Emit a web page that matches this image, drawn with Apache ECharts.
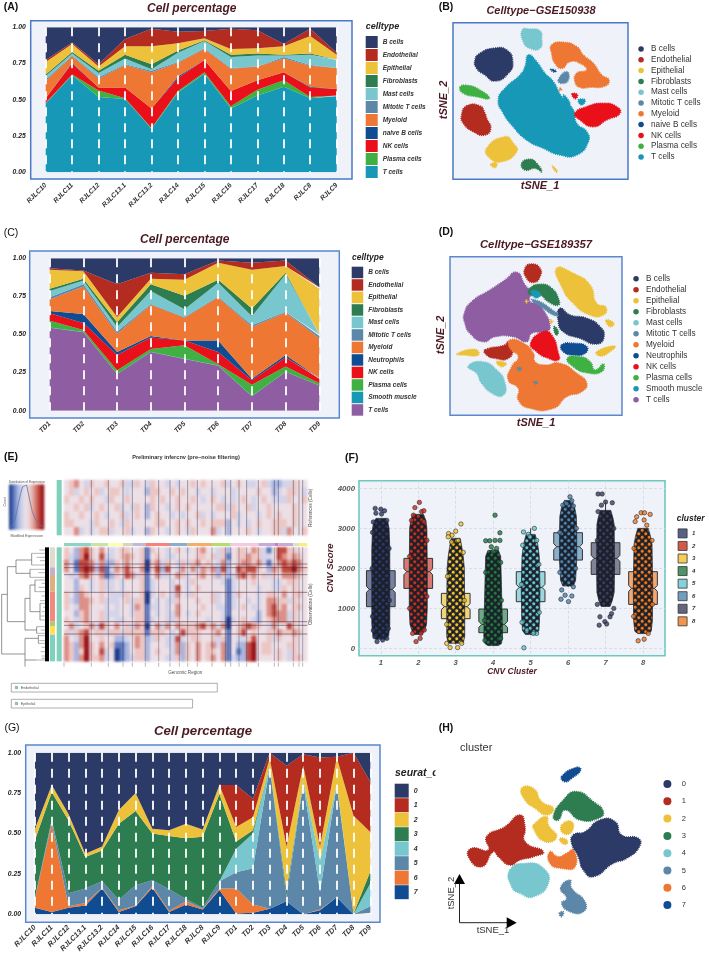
<!DOCTYPE html>
<html><head><meta charset="utf-8">
<style>html,body{margin:0;padding:0;background:#fff}
#h,#c{position:absolute;left:0;top:0;width:709px;height:960px}
#h{filter:blur(1px)}#c{filter:blur(.35px)}</style>
<script src="https://cdn.jsdelivr.net/npm/echarts@6/dist/echarts.min.js"></script>
</head><body><div id="h"></div><div id="c"></div>
<script>
// ---------- Panel A values: upper edge of each band ----------
const catsA=['RJLC10','RJLC11','RJLC12','RJLC13.1','RJLC13.2','RJLC14','RJLC15','RJLC16','RJLC17','RJLC18','RJLC8','RJLC9'];
const A_T=[.475,.67,.52,.505,.30,.55,.68,.44,.53,.59,.51,.525];
const A_Plasma=[.48,.675,.565,.51,.305,.56,.69,.455,.57,.635,.52,.53];
const A_NK=[.51,.75,.585,.585,.44,.65,.775,.56,.635,.69,.585,.575];
const A_NaiveB=[.51,.755,.585,.585,.44,.66,.775,.56,.635,.69,.59,.575];
const A_Myeloid=[.63,.80,.645,.74,.69,.755,.85,.715,.73,.785,.735,.72];
const A_Mitotic=[.64,.805,.655,.745,.70,.76,.855,.72,.73,.795,.74,.72];
const A_Mast=[.665,.82,.685,.785,.71,.825,.905,.795,.805,.805,.81,.775];
const A_Fibro=[.675,.83,.70,.81,.745,.84,.91,.81,.82,.81,.82,.78];
const A_Epi=[.76,.885,.73,.87,.87,.89,.925,.85,.855,.87,.94,.81];
const A_Endo=[.775,.895,.745,.92,.99,.97,.975,.99,.98,.885,.99,.825];
const A_B=[1,1,1,1,1,1,1,1,1,1,1,1];
// ---------- Panel C ----------
const catsC=['TD1','TD2','TD3','TD4','TD5','TD6','TD7','TD8','TD9'];
const C_T=[.545,.515,.24,.385,.34,.295,.095,.255,.165];
const C_Smooth=[.546,.516,.241,.386,.341,.296,.096,.256,.166];
const C_Plasma=[.59,.53,.265,.405,.43,.305,.17,.29,.18];
const C_NK=[.64,.575,.365,.48,.46,.385,.20,.35,.21];
const C_Neutro=[.655,.635,.385,.49,.46,.46,.21,.365,.215];
const C_Myeloid=[.73,.815,.505,.695,.61,.745,.55,.645,.475];
const C_Mitotic=[.745,.83,.52,.70,.615,.75,.56,.65,.49];
const C_Mast=[.785,.855,.55,.785,.665,.84,.62,.895,.50];
const C_Fibro=[.80,.865,.58,.83,.755,.86,.67,.905,.505];
const C_Epi=[.925,.915,.615,.865,.86,.97,.925,.95,.80];
const C_Endo=[.935,.92,.83,.905,.895,.985,.97,.985,.81];
const C_B=[1,1,1,1,1,1,1,1,1];
// ---------- Panel G ----------
const catsG=['RJLC10','RJLC11','RJLC12','RJLC13.1','RJLC13.2','RJLC14','RJLC15','RJLC16','RJLC17','RJLC18','RJLC8','RJLC9','TD1','TD2','TD3','TD4','TD5','TD6','TD7','TD8','TD9'];
const G_7=[.04,.015,.04,.055,.16,.015,.05,.165,.015,.06,.03,.15,.005,.01,.035,.08,0,.025,.105,0,.005];
const G_6=[.10,.56,.05,.07,.165,.025,.055,.175,.02,.08,.035,.16,.16,.06,.035,.08,0,.03,.105,0,.01];
const G_5=[.105,.58,.13,.16,.205,.09,.18,.21,.155,.095,.04,.205,.26,.285,.91,.11,.81,.14,.80,0,.05];
const G_4=[.105,.585,.13,.16,.205,.09,.18,.21,.155,.095,.04,.205,.405,.50,.92,.115,.83,.33,.81,0,.19];
const G_3=[.46,.755,.58,.355,.395,.56,.64,.50,.485,.47,.48,.745,.45,.52,.92,.145,.83,.33,.81,.005,.265];
const G_2=[.53,.80,.62,.375,.42,.645,.75,.53,.52,.56,.525,.80,.54,.60,.965,.42,.92,.42,.97,.61,.51];
const G_1=[.53,.80,.62,.375,.42,.645,.75,.53,.52,.56,.525,.80,.80,.715,1,.92,.99,.97,.975,1,.82];
const G_0=[1,1,1,1,1,1,1,1,1,1,1,1,1,1,1,1,1,1,1,1,1];
// ---------- Panel B tSNE cluster outlines ----------
const B_Bcells=[[[150,160],[190,145],[230,150],[248,185],[235,220],[195,243],[165,225],[140,205],[135,180]]];
const B_Endo=[[[110,318],[150,318],[165,340],[170,355],[182,385],[165,405],[130,395],[100,370],[95,345]]];
const B_Epi=[[[170,445],[225,410],[250,430],[260,455],[215,485],[180,475]],[[182,493],[200,490],[195,503]],[[367,498],[382,513],[378,516]]];
const B_Fibro=[[[275,490],[300,478],[320,490],[335,515],[315,505],[285,510]]];
const B_Mast=[[[277,90],[300,87],[330,93],[335,115],[330,145],[300,145],[280,125]]];
const B_Mitotic=[[[385,240],[410,215],[415,240],[395,250]]];
const B_Myeloid=[[[365,135],[400,127],[440,140],[460,165],[490,190],[515,225],[537,240],[525,258],[480,262],[450,262],[435,245],[440,220],[470,210],[450,190],[420,185],[395,205],[375,190],[365,160]],[[390,265],[395,268],[389,271]]];
const B_Naive=[[[362,208],[378,212],[372,216]]];
const B_NK=[[[435,340],[470,320],[520,310],[560,320],[570,340],[530,360],[490,380],[450,360]],[[426,282],[442,284],[436,296]]];
const B_Plasma=[[[90,262],[110,256],[150,270],[178,295],[140,290],[100,280]]];
const B_T=[[[295,165],[320,185],[345,220],[370,245],[395,290],[430,330],[440,370],[470,395],[475,425],[440,465],[390,465],[340,445],[290,420],[245,375],[220,340],[205,300],[225,265],[270,225],[285,200]],[[400,285],[420,310],[410,315]],[[445,300],[465,300],[455,315]]];
// ---------- Panel D tSNE cluster outlines ----------
const D_Bcells=[[[390,265],[420,285],[470,295],[510,320],[522,350],[500,372],[450,355],[400,335],[385,305]]];
const D_Endo=[[[285,145],[305,132],[330,145],[330,170],[312,187],[290,175]],[[165,390],[225,375],[235,365],[248,385],[235,415],[195,415],[170,405]]];
const D_Epi=[[[380,145],[430,160],[480,195],[500,250],[528,262],[520,285],[480,285],[430,250],[395,200]],[[528,300],[552,310],[540,320]],[[500,395],[555,378],[540,395],[510,408]],[[80,402],[135,388],[145,405],[100,405]],[[200,425],[228,430],[215,440]],[[362,300],[368,305],[362,309]],[[288,240],[294,244],[288,248]]];
const D_Fibro=[[[300,205],[335,193],[365,205],[385,235],[385,255],[355,245],[330,225],[300,225]],[[372,320],[385,335],[378,345]],[[268,378],[285,374],[282,390],[270,390]]];
const D_Mast=[[[115,440],[155,425],[200,450],[225,490],[220,525],[190,522],[155,490],[140,460]]];
const D_Mitotic=[[[305,240],[330,245],[360,265],[385,285],[370,285],[340,265]],[[262,444],[274,444],[268,452]],[[312,486],[322,486],[318,492]]];
const D_Myeloid=[[[240,360],[280,370],[310,400],[315,425],[345,435],[390,430],[440,460],[470,490],[455,515],[410,530],[370,565],[300,565],[265,540],[265,505],[235,480],[245,440],[265,410],[240,385]]];
const D_Neutro=[[[395,375],[430,370],[470,380],[465,400],[430,405],[400,395]]];
const D_NK=[[[340,335],[365,345],[385,400],[385,420],[355,415],[320,395],[302,370]]];
const D_Plasma=[[[412,415],[450,410],[480,425],[495,450],[520,432],[515,455],[470,458],[430,440]]];
const D_Smooth=[[[305,212],[330,220],[325,232],[312,230]]];
const D_T=[[[260,157],[285,195],[300,215],[300,245],[320,250],[340,270],[360,320],[345,335],[305,340],[290,365],[250,350],[195,350],[160,365],[120,340],[105,310],[103,280],[125,245],[180,210],[225,180]]];
// ---------- Panel H tSNE cluster outlines ----------
const H_0=[[[430,345],[465,335],[510,300],[555,305],[575,345],[625,355],[628,380],[590,415],[550,430],[490,470],[460,450],[445,410],[425,370]]];
const H_1=[[[170,350],[225,320],[270,285],[285,320],[285,365],[340,395],[310,410],[270,420],[240,435],[205,410],[190,395],[155,440],[115,410],[125,385],[175,390]]];
const H_2=[[[275,205],[310,205],[335,245],[370,265],[350,285],[315,265],[285,240]],[[315,310],[350,290],[355,315],[380,350],[345,365],[310,325]],[[395,315],[425,305],[425,335],[400,340]],[[390,355],[410,360],[410,372],[395,368]]];
const H_3=[[[370,290],[400,240],[440,215],[490,245],[520,275],[505,295],[450,300],[405,270],[385,300]]];
const H_4=[[[240,450],[290,430],[340,445],[355,490],[310,530],[270,520],[245,500]]];
const H_5=[[[392,505],[420,480],[425,505],[465,545],[460,575],[420,575],[395,550],[410,535]],[[388,580],[400,575],[395,590]]];
const H_6=[[[360,395],[385,410],[410,400],[430,390],[435,440],[395,445],[360,430]]];
const H_7=[[[395,170],[440,142],[452,150],[425,175],[405,185]]];
// ---------- Panel F: [cluster, Q1, median, Q3, whiskerLow, whiskerHigh] ----------
const boxStats=[[1,1042,1475,1942,200,3200],[2,1500,1917,2250,350,3300],[3,742,1042,1375,100,2700],[4,392,600,983,80,2250],[5,1167,1525,1917,330,3000],[6,2208,2542,2892,1540,3650],[7,1850,2250,2642,1100,3660],[8,1100,1500,1917,400,2950]];
const jitter1=[[3250,.13],[3150,.19],[3000,.22],[2500,.24],[1500,.24],[600,.24],[320,.21],[230,.14]];
const jitter2=[[3350,.14],[3200,.2],[3000,.23],[2000,.24],[1000,.24],[600,.22],[450,.17],[350,.1]];
const jitter3=[[2750,.12],[2550,.16],[2300,.2],[2000,.23],[1000,.24],[300,.24],[130,.2]];
const jitter4=[[2450,.14],[2300,.2],[1600,.22],[800,.24],[300,.25],[120,.22],[70,.14]];
const jitter5=[[2850,.12],[2600,.19],[2300,.23],[1500,.25],[800,.24],[450,.22],[350,.14]];
const jitter6=[[3700,.1],[3500,.18],[3300,.22],[2800,.23],[2200,.23],[1700,.2],[1560,.14]];
const jitter7=[[3450,.14],[3250,.2],[3100,.23],[2000,.24],[1400,.23],[1200,.18],[1050,.12]];
const jitter8=[[3000,.14],[2800,.2],[2600,.24],[1500,.26],[700,.25],[430,.22],[370,.14]];
const dots1=[[-.15,3500],[0,3480],[.1,3440],[-.13,3380],[.02,3360],[.16,3200],[-.2,3160],[-.1,170],[.05,210],[.16,250],[-.16,290],[-.22,2900],[.22,2500],[-.23,2000],[.23,1200],[-.22,800],[.2,500],[-.2,450]];
const dots2=[[-.09,3520],[.03,3650],[-.13,3330],[.09,3420],[.15,3440],[-.18,3200],[.15,3170],[-.06,170],[.05,250],[-.15,375],[.16,460],[.07,375],[.23,2700],[-.23,2300],[.23,1300],[-.23,1000]];
const dots3=[[.14,3110],[0,2930],[-.19,2870],[-.1,2830],[-.2,2790],[.07,2700],[-.11,2660],[-.15,20],[.05,20],[-.24,125],[.16,125],[.2,2400],[-.22,1800],[.23,1200],[-.24,600]];
const dots4=[[.05,3330],[.18,2890],[-.2,2690],[-.09,2690],[.05,2700],[.18,2700],[-.05,2540],[.09,2500],[0,2420],[.2,2150],[-.2,1900],[.22,1200],[-.23,700],[.2,250],[-.22,200]];
const dots5=[[-.18,15],[.1,3000],[-.19,2910],[-.06,2850],[-.02,2790],[.16,2700],[-.21,2580],[.16,375],[-.1,460],[.07,375],[.22,2100],[-.24,1600],[.23,900],[-.23,650]];
const dots6=[[.05,3790],[.1,3690],[-.14,3580],[-.04,3620],[.14,3560],[-.17,1460],[.14,1540],[-.19,1230],[-.08,1330],[.01,1170],[.1,1310],[.22,3000],[-.22,2900],[.2,2000],[-.22,1900]];
const dots7=[[-.2,3860],[-.09,3860],[0,3660],[.18,3640],[-.11,3580],[-.2,3420],[-.15,790],[.12,790],[.16,870],[-.02,670],[-.17,580],[.03,610],[.22,1000],[-.22,1100],[.22,3000],[-.22,2700]];
const dots8=[[-.05,3390],[.04,3390],[.19,3350],[-.17,3290],[-.21,3170],[.03,3210],[.1,3080],[-.13,190],[.03,230],[.14,375],[.24,2700],[-.24,2500],[.25,1100],[-.25,800]];
const cnvTicks=[0,1000,2000,3000,4000];
const clusterTicks=[1,2,3,4,5,6,7,8];
// ---------- Panel E: expression levels 0 (blue) .. 8 (red), rows of 48 columns ----------
const refRows=[
"45643544 54453354 35443434 45454445 34543345 32233544",
"45345453 45543444 25544545 44344344 43444454 42345543",
"54454544 35445444 45454454 45434543 43454345 43335445",
"44545345 44534354 25443454 54444455 35445344 54444544",
"54454454 34453454 24544343 44534344 45344434 54544544",
"55444354 45435444 44554454 54454555 24343454 45554544",
"44634345 53445344 25443454 35444634 24445434 45536445"];
const obsRows=[
"54267546 43455445 15443454 34564435 24554653 14775544",
"53268547 33456545 14543344 44554535 14556553 34765654",
"63177636 22546445 05635435 35645436 24566563 14676764",
"64178727 13657546 05727436 46365627 24767754 26577865",
"43367546 12547635 14633465 34564525 23675645 35466654",
"44244345 33434445 13444344 35444443 13444544 43345544",
"44254345 33434445 13444374 34544444 13444434 43354544",
"54265445 43335445 03454364 35444534 13544434 55464554",
"53266545 33345355 04343354 44544534 13443434 66553544",
"54366444 34344365 13343464 44454433 13454334 67564554",
"44256445 33344355 14343364 34544443 14444424 67663544",
"54356445 34334455 13443354 44443443 03454324 56663544",
"46345637 54645365 04636465 55675636 04567654 36447544",
"53567455 35535555 15554347 55544564 14574544 55655654",
"64368445 44223465 23543373 45544535 14335744 53544544",
"65268546 45112465 24443362 54645636 14227845 54445544",
"65258547 34012455 24544362 54645546 14127845 54543544",
"65268556 34012355 24443352 54645646 13227844 44543554"];
const keyLevels=[0,.5,1,1.5,2,2.5,3,3.5,4,4.5,5,5.5,6,6.5,7,7.5,8];
const chromLines=[274,325,369,397,436,476,510,538,563,592,636,676,692,717,740,775,823,835,880,897,908];
const chromEdges=[192,274,325,369,397,436,510,563,636,692,775,823,835,880,897,922];
const chromColors=['#8dd3c7','#c5e5a8','#fdfdb0','#d9d4c0','#bebada','#f4837a','#8aaed0','#f2b066','#b3de69','#f6c9de','#c9a9d6','#c77fbe','#c9a9d6','#ccebc5','#ffed6f'];
const obsLines=[282,293,314,367,455,466,492];
const groupEdges=[232,292,315,365,455,468,494,574];
const groupColors=['#e0dccb','#c4b0cf','#deb07f','#f08a80','#a8d070','#ffe24d','#7fd0bd'];
const dendroSegs=[[5,373,5,552],[5,373,22,373],[22,290,22,455],[22,290,48,290],[48,270,48,310],[48,270,95,270],[48,310,90,310],[95,250,95,285],[90,298,90,322],[22,455,75,455],[75,385,75,480],[75,385,90,385],[90,345,90,425],[90,345,105,345],[90,425,120,425],[75,480,110,480],[5,552,75,552],[75,505,75,590],[75,505,115,505],[75,570,110,570],[105,330,105,365],[120,400,120,450],[110,470,110,490],[115,495,115,520]];
const dendroLeaves=[[240,118],[250,95],[262,110],[272,120],[285,95],[298,90],[308,115],[322,90],[330,105],[340,125],[352,115],[365,105],[378,125],[392,120],[400,120],[412,130],[425,125],[438,122],[450,120],[470,110],[480,122],[490,110],[497,115],[512,118],[520,115],[532,125],[545,122],[558,125],[570,110],[565,125]];
const histLine=[[30,176],[45,150],[55,100],[62,70],[68,50],[80,45],[86,50],[90,95],[97,125],[105,145],[115,162],[130,170]];

// ---------- styles ----------
const col={B:'#2B3A67',Endo:'#B42B20',Epi:'#EEC13A',Fibro:'#2E7D50',Mast:'#78C6CE',Mito:'#5D87A8',Mye:'#EE7733',Naive:'#0F4C92',NK:'#E9101A',Plasma:'#3FB143',T:'#1798B7',Purple:'#8F5DA2'};
const FF='"Liberation Sans",Arial,sans-serif', maroon='#4A1A22', panelBg='#EFF3F9';
const grids=[], xAxes=[], yAxes=[], series=[], legends=[], gfx=[];
function addGrid(g,x,y){grids.push(g);xAxes.push(Object.assign({gridIndex:grids.length-1},x));yAxes.push(Object.assign({gridIndex:grids.length-1},y));return grids.length-1;}
function txt(s,x,y,size,o){o=o||{};gfx.push({type:'text',x,y,rotation:o.rot||0,z:20,silent:true,style:{text:s,fill:o.fill||'#222',align:o.align||'center',verticalAlign:'middle',font:`${o.style||''} ${o.weight||''} ${size}px ${FF}`}});}
function frame(x,y,w,h,stroke){gfx.push({type:'rect',z:0,silent:true,shape:{x,y,width:w,height:h},style:{fill:panelBg,stroke,lineWidth:1.5}});}
const legendFont={fontFamily:FF,fontStyle:'italic',fontWeight:'bold',color:'#333'};

function stacked(g,layers,stackId){ // layers bottom -> top: [name,color,tops]
  layers.forEach((l,i)=>{const below=i?layers[i-1][2]:null;
    series.push({type:'line',name:l[0],stack:stackId,xAxisIndex:g,yAxisIndex:g,symbol:'none',showSymbol:false,animation:false,silent:true,
      lineStyle:{width:0},itemStyle:{color:l[1]},areaStyle:{color:l[1],opacity:1},
      data:l[2].map((v,k)=>+(v-(below?below[k]:0)).toFixed(4))});});
}
function shareAxes(cats,lm,xFont,xMargin){return [{type:'category',data:cats,boundaryGap:false,z:6,axisLine:{show:false},axisTick:{show:false},
    splitLine:{show:true,interval:0,lineStyle:{color:'#fff',width:1.8,type:[9,7]}},
    axisLabel:{rotate:45,interval:0,margin:xMargin,fontFamily:FF,fontSize:xFont,fontWeight:'bold',fontStyle:'italic',color:'#333'}},
   {type:'value',min:0,max:1,interval:.25,axisLine:{show:false},axisTick:{show:false},splitLine:{show:false},
    axisLabel:{margin:lm,formatter:v=>v.toFixed(2),fontFamily:FF,fontSize:6.8,fontWeight:'bold',fontStyle:'italic',color:'#222'}}];}
function rectLegend(names,colors,left,top,size,gap,font){legends.push({orient:'vertical',left,top,padding:0,itemWidth:size,itemHeight:size,itemGap:gap,selectedMode:false,icon:'rect',
    textStyle:Object.assign({},legendFont,{fontSize:font}),data:names.map((n,i)=>({name:n,icon:'rect',itemStyle:{color:colors[i],borderWidth:0}}))});}

// Panel A
frame(30.7,20.7,321.3,158.3,'#4B78C8');
let ax=shareAxes(catsA,20,6.8,12);
let g=addGrid({left:45.7,top:27.3,width:291,height:145},ax[0],ax[1]);
stacked(g,[['T cells',col.T,A_T],['Plasma cells',col.Plasma,A_Plasma],['NK cells',col.NK,A_NK],['naive B cells',col.Naive,A_NaiveB],['Myeloid',col.Mye,A_Myeloid],['Mitotic T cells',col.Mito,A_Mitotic],['Mast cells',col.Mast,A_Mast],['Fibroblasts',col.Fibro,A_Fibro],['Epithelial',col.Epi,A_Epi],['Endothelial',col.Endo,A_Endo],['B cells',col.B,A_B]],'A');
rectLegend(['B cells','Endothelial','Epithelial','Fibroblasts','Mast cells','Mitotic T cells','Myeloid','naive B cells','NK cells','Plasma cells','T cells'],[col.B,col.Endo,col.Epi,col.Fibro,col.Mast,col.Mito,col.Mye,col.Naive,col.NK,col.Plasma,col.T],365.7,36,12,1,6.5);
txt('(A)',11,7,10.5,{weight:'bold',fill:'#111'});
txt('Cell percentage',191.7,9,12,{weight:'bold',style:'italic',fill:maroon});
txt('celltype',365.7,26.7,9,{weight:'bold',style:'italic',align:'left',fill:'#222'});

// Panel C
frame(29.7,251,309.6,167,'#5B87D0');
ax=shareAxes(catsC,23.7,6.9,12);
g=addGrid({left:49.7,top:258.3,width:269.6,height:152.4},ax[0],ax[1]);
stacked(g,[['T cells',col.Purple,C_T],['Smooth muscle',col.T,C_Smooth],['Plasma cells',col.Plasma,C_Plasma],['NK cells',col.NK,C_NK],['Neutrophils',col.Naive,C_Neutro],['Myeloid',col.Mye,C_Myeloid],['Mitotic T cells',col.Mito,C_Mitotic],['Mast cells',col.Mast,C_Mast],['Fibroblasts',col.Fibro,C_Fibro],['Epithelial',col.Epi,C_Epi],['Endothelial',col.Endo,C_Endo],['B cells',col.B,C_B]],'C');
rectLegend(['B cells','Endothelial','Epithelial','Fibroblasts','Mast cells','Mitotic T cells','Myeloid','Neutrophils','NK cells','Plasma cells','Smooth muscle','T cells'],[col.B,col.Endo,col.Epi,col.Fibro,col.Mast,col.Mito,col.Mye,col.Naive,col.NK,col.Plasma,col.T,col.Purple],351.7,266.7,11.5,1,6.5);
txt('(C)',11,233,10.5,{fill:'#111'});
txt('Cell percentage',184.7,240,12,{weight:'bold',style:'italic',fill:maroon});
txt('celltype',352,257.7,8.5,{weight:'bold',style:'italic',align:'left',fill:'#222'});

// Panel G
frame(25.7,745,354.3,177.3,'#5B87D0');
ax=shareAxes(catsG,14,7.4,12);
g=addGrid({left:35,top:752.7,width:335.3,height:161.6},ax[0],ax[1]);
stacked(g,[['7',col.Naive,G_7],['6',col.Mye,G_6],['5',col.Mito,G_5],['4',col.Mast,G_4],['3',col.Fibro,G_3],['2',col.Epi,G_2],['1',col.Endo,G_1],['0',col.B,G_0]],'G');
rectLegend(['0','1','2','3','4','5','6','7'],[col.B,col.Endo,col.Epi,col.Fibro,col.Mast,col.Mito,col.Mye,col.Naive],394.7,783.7,14,.5,7);
txt('(G)',12,728,10.5,{fill:'#111'});
txt('Cell percentage',203,731.7,13.2,{weight:'bold',style:'italic',fill:maroon});
txt('seurat_c',395,773,10.5,{style:'italic',weight:'bold',align:'left',fill:'#222'});
gfx.push({type:'rect',z:25,silent:true,shape:{x:435.5,y:765,width:14,height:15},style:{fill:'#fff'}});

// tSNE panels
function blobs(gi,name,color,list){series.push({type:'custom',name,xAxisIndex:gi,yAxisIndex:gi,animation:false,silent:true,clip:false,
   encode:{x:0,y:1},data:list.map(b=>b[0]),itemStyle:{color},
   renderItem(p,api){return {type:'polygon',shape:{points:list[p.dataIndex].map(q=>api.coord(q)),smooth:.55},style:{fill:color,stroke:color,lineWidth:1.6,lineDash:[1,1]}};}});}
function hidden(min,max,inv){return {type:'value',show:false,min,max,inverse:!!inv,scale:true};}
function circleLegend(names,colors,left,top,wid,size,gap,font){legends.push({orient:'vertical',left,top,padding:0,itemWidth:wid,itemHeight:size,itemGap:gap,selectedMode:false,icon:'circle',
    textStyle:{fontFamily:FF,fontSize:font,color:'#333'},data:names.map((n,i)=>({name:n,icon:'circle',itemStyle:{color:colors[i],borderWidth:0}}))});}
// B
g=addGrid({left:453,top:22.7,width:175,height:156.6,show:true,backgroundColor:panelBg,borderColor:'#4B78C8',borderWidth:1.5},hidden(69,594),hidden(68,538,true));
[['T cells',col.T,B_T],['B cells',col.B,B_Bcells],['Endothelial',col.Endo,B_Endo],['Epithelial',col.Epi,B_Epi],['Fibroblasts',col.Fibro,B_Fibro],['Mast cells',col.Mast,B_Mast],['Mitotic T cells',col.Mito,B_Mitotic],['Myeloid',col.Mye,B_Myeloid],['naive B cells',col.Naive,B_Naive],['NK cells',col.NK,B_NK],['Plasma cells',col.Plasma,B_Plasma]].forEach(c=>blobs(g,c[0],c[1],c[2]));
circleLegend(['B cells','Endothelial','Epithelial','Fibroblasts','Mast cells','Mitotic T cells','Myeloid','naive B cells','NK cells','Plasma cells','T cells'],[col.B,col.Endo,col.Epi,col.Fibro,col.Mast,col.Mito,col.Mye,col.Naive,col.NK,col.Plasma,col.T],638.3,45,10,5.5,2.8,8.2);
txt('(B)',446,7,10.5,{weight:'bold',fill:'#111'});
txt('Celltype\u2212GSE150938',541,11,11,{weight:'bold',style:'italic',fill:maroon});
txt('tSNE_1',540,186,11,{weight:'bold',style:'italic',fill:maroon});
txt('tSNE_2',444,100,11,{weight:'bold',style:'italic',fill:maroon,rot:Math.PI/2});
// D
g=addGrid({left:450,top:256.7,width:172,height:158.6,show:true,backgroundColor:panelBg,borderColor:'#5B87D0',borderWidth:1.5},hidden(60,576),hidden(110,586,true));
[['T cells',col.Purple,D_T],['B cells',col.B,D_Bcells],['Endothelial',col.Endo,D_Endo],['Epithelial',col.Epi,D_Epi],['Fibroblasts',col.Fibro,D_Fibro],['Mast cells',col.Mast,D_Mast],['Myeloid',col.Mye,D_Myeloid],['Mitotic T cells',col.Mito,D_Mitotic],['Neutrophils',col.Naive,D_Neutro],['NK cells',col.NK,D_NK],['Plasma cells',col.Plasma,D_Plasma],['Smooth muscle',col.T,D_Smooth]].forEach(c=>blobs(g,c[0],c[1],c[2]));
circleLegend(['B cells','Endothelial','Epithelial','Fibroblasts','Mast cells','Mitotic T cells','Myeloid','Neutrophils','NK cells','Plasma cells','Smooth muscle','T cells'],[col.B,col.Endo,col.Epi,col.Fibro,col.Mast,col.Mito,col.Mye,col.Naive,col.NK,col.Plasma,col.T,col.Purple],633.3,274.7,10,5.5,3,8.2);
txt('(D)',446,232,10.5,{weight:'bold',fill:'#111'});
txt('Celltype\u2212GSE189357',536,245,11.3,{weight:'bold',style:'italic',fill:maroon});
txt('tSNE_1',536,423,11,{weight:'bold',style:'italic',fill:maroon});
txt('tSNE_2',441,335,11,{weight:'bold',style:'italic',fill:maroon,rot:Math.PI/2});
// H
g=addGrid({left:430,top:720,width:279,height:240},hidden(0,837),hidden(0,720,true));
[['0',col.B,H_0],['1',col.Endo,H_1],['2',col.Epi,H_2],['3',col.Fibro,H_3],['4',col.Mast,H_4],['5',col.Mito,H_5],['6',col.Mye,H_6],['7',col.Naive,H_7]].forEach(c=>blobs(g,c[0],c[1],c[2]));
circleLegend(['0','1','2','3','4','5','6','7'],[col.B,col.Endo,col.Epi,col.Fibro,col.Mast,col.Mito,col.Mye,col.Naive],663.4,780,18.6,8,9.3,7.5);
txt('(H)',446,728,10.5,{weight:'bold',fill:'#111'});
txt('cluster',460,748,11,{align:'left',fill:'#333'});
gfx.push({type:'polyline',z:15,silent:true,shape:{points:[[459.5,880],[459.5,922.7],[510,922.7]]},style:{stroke:'#222',lineWidth:1,fill:'none'}});
gfx.push({type:'polygon',z:15,silent:true,shape:{points:[[459.5,874],[454,884],[465,884]]},style:{fill:'#000'}});
gfx.push({type:'polygon',z:15,silent:true,shape:{points:[[516.7,922.7],[506.7,917.2],[506.7,928.2]]},style:{fill:'#000'}});
txt('tSNE_1',493,930.7,9.5,{fill:'#333'});
txt('tSNE_2',451,893,9.5,{fill:'#333',rot:Math.PI/2});

// Panel F
const clusterCol=['#2B3A67','#C8301E','#F2C230','#1E7A40','#66C7CF','#4E86B0','#3D3D5C','#F07A20'];
const jitters=[jitter1,jitter2,jitter3,jitter4,jitter5,jitter6,jitter7,jitter8];
const dotsAll=[dots1,dots2,dots3,dots4,dots5,dots6,dots7,dots8];
const faceFont={fontFamily:FF,fontSize:7.6,fontStyle:'italic',fontWeight:'bold',color:'#555'};
const gridLine={show:true,lineStyle:{color:'#D3D7DE',width:.8,type:[3,2]}};
const gF=addGrid({left:359,top:480.7,width:306,height:175,show:true,backgroundColor:panelBg,borderColor:'#6FC7BE',borderWidth:1.6},
  {type:'value',min:.418,max:8.587,axisLine:{show:false},axisTick:{show:false,customValues:clusterTicks},splitLine:gridLine,axisLabel:Object.assign({},faceFont,{customValues:clusterTicks,margin:3,formatter:v=>String(v)})},
  {type:'value',min:-183,max:4192,axisLine:{show:false},axisTick:{show:false,customValues:cnvTicks},splitLine:gridLine,axisLabel:Object.assign({},faceFont,{customValues:cnvTicks,margin:4,fontSize:7.8,formatter:v=>String(v)})});
function rgba(h,a){const n=parseInt(h.slice(1),16);return `rgba(${n>>16},${(n>>8)&255},${n&255},${a})`;}
function tile(c){const t=document.createElement('canvas');t.width=7;t.height=7;const x=t.getContext('2d');x.fillStyle='#1c202a';x.fillRect(0,0,7,7);
  [[1.75,1.75],[5.25,5.25],[8.75,1.75],[1.75,8.75],[-1.75,5.25],[5.25,-1.75]].forEach(p=>{x.beginPath();x.arc(p[0],p[1],1.95,0,7);x.fillStyle=c;x.fill();x.lineWidth=.8;x.strokeStyle='#1c202a';x.stroke();});return t;}
boxStats.forEach((b,i)=>{const name=String(b[0]),c=clusterCol[i],hw=.383,prof=jitters[i],cx=b[0];
  series.push({type:'custom',name,xAxisIndex:gF,yAxisIndex:gF,z:3,animation:false,silent:true,encode:{x:0,y:[1,2,3]},data:[b],itemStyle:{color:c},
    renderItem(p,api){const q1=b[1],m=b[2],q3=b[3],n=75,P=(x,y)=>api.coord([x,y]);
      return {type:'group',children:[
       {type:'polygon',shape:{points:[P(cx-hw,q3),P(cx+hw,q3),P(cx+hw,m+n),P(cx+hw*.8,m),P(cx+hw,m-n),P(cx+hw,q1),P(cx-hw,q1),P(cx-hw,m-n),P(cx-hw*.8,m),P(cx-hw,m+n)]},style:{fill:rgba(c,.62),stroke:'#333',lineWidth:1}},
       {type:'line',shape:{x1:P(cx-hw*.8,m)[0],y1:P(cx,m)[1],x2:P(cx+hw*.8,m)[0],y2:P(cx,m)[1]},style:{stroke:'#333',lineWidth:1}},
       {type:'line',shape:{x1:P(cx,b[4])[0],y1:P(cx,b[4])[1],x2:P(cx,b[5])[0],y2:P(cx,b[5])[1]},style:{stroke:'#333',lineWidth:1}}]};}});
  const pat={image:tile(c),repeat:'repeat'};
  series.push({type:'custom',name,xAxisIndex:gF,yAxisIndex:gF,z:4,animation:false,silent:true,encode:{x:0,y:1},data:[[cx,prof[0][0]]],itemStyle:{color:c},
    renderItem(p,api){const pts=prof.map(q=>api.coord([cx-q[1],q[0]])).concat(prof.slice().reverse().map(q=>api.coord([cx+q[1],q[0]])));
      return {type:'polygon',shape:{points:pts},style:{fill:pat,stroke:'#1c202a',lineWidth:.7}};}});
  series.push({type:'scatter',name,xAxisIndex:gF,yAxisIndex:gF,z:5,animation:false,silent:true,symbolSize:4.4,itemStyle:{color:c,borderColor:'#1c202a',borderWidth:.7},data:dotsAll[i].map(d=>[cx+d[0],d[1]])});
});
legends.push({orient:'vertical',left:677.7,top:528.5,padding:0,itemWidth:9,itemHeight:9,itemGap:2.76,selectedMode:false,icon:'rect',textStyle:Object.assign({},legendFont,{fontSize:6}),
  data:clusterCol.map((c,i)=>({name:String(i+1),icon:'rect',itemStyle:{color:rgba(c,.8),borderColor:'#333',borderWidth:.8}}))});
txt('(F)',345,458,10.5,{weight:'bold',fill:'#111',align:'left'});
txt('CNV Score',330,568,9.5,{weight:'bold',style:'italic',fill:maroon,rot:Math.PI/2});
txt('CNV Cluster',512,672,8.5,{weight:'bold',style:'italic',fill:maroon});
txt('cluster',676.7,519,8.5,{weight:'bold',style:'italic',align:'left',fill:'#222'});

// Panel E heat maps: a softened layer beneath the main canvas
const hGrids=[],hX=[],hY=[],hSeries=[];
function heatOf(rows,left,top,width,height){const n=rows[0].length,gi=hGrids.length;
  hGrids.push({left,top,width,height});
  hX.push({gridIndex:gi,type:'category',show:false,data:rows[0].map((_,i)=>i)});
  hY.push({gridIndex:gi,type:'category',show:false,inverse:true,data:rows.map((_,i)=>i)});
  const d=[];rows.forEach((r,y)=>r.forEach((v,x)=>d.push([x,y,v])));
  hSeries.push({type:'heatmap',name:'expression',xAxisIndex:gi,yAxisIndex:gi,data:d,silent:true,animation:false,progressive:0,itemStyle:{borderWidth:0}});}
const digits=r=>[...r.replace(/ /g,'')].map(Number);
heatOf(refRows.map(digits),64,480,243.3,55.3);
heatOf(obsRows.map(digits),64,547.3,243.3,114);
heatOf([keyLevels],9.3,484.7,34.7,44.7);
// overlay grid in annotation units
const gE=addGrid({left:0,top:470,width:340,height:250},hidden(0,1020),hidden(0,750,true));
function segs(name,list,stroke,w,z){series.push({type:'custom',name,xAxisIndex:gE,yAxisIndex:gE,z,animation:false,silent:true,clip:false,encode:{x:[0,2],y:[1,3]},data:list,itemStyle:{color:stroke},
  renderItem(p,api){const s=list[p.dataIndex],a=api.coord([s[0],s[1]]),b=api.coord([s[2],s[3]]);return {type:'line',shape:{x1:a[0],y1:a[1],x2:b[0],y2:b[1]},style:{stroke,lineWidth:w}};}});}
function rects(name,list,colors,z){series.push({type:'custom',name,xAxisIndex:gE,yAxisIndex:gE,z,animation:false,silent:true,clip:false,encode:{x:[0,2],y:[1,3]},data:list,
  renderItem(p,api){const s=list[p.dataIndex],a=api.coord([s[0],s[1]]),b=api.coord([s[2],s[3]]);return {type:'rect',shape:{x:a[0],y:a[1],width:b[0]-a[0],height:b[1]-a[1]},style:{fill:colors[p.dataIndex]}};}});}
rects('chromosome bar',chromEdges.slice(0,-1).map((e,i)=>[e,219,chromEdges[i+1],228]),chromColors,3);
rects('reference bar',[[170,30,185,196],[170,232,185,574]],['#7FD0BD','#7FD0BD'],3);
rects('cell groups',groupEdges.slice(0,-1).map((e,i)=>[150,e,165,groupEdges[i+1]]),groupColors,3);
rects('leaves',[[135,232,147,574]],['#000'],3);
segs('reference chromosome lines',chromLines.map(x=>[x,30,x,196]),'rgba(50,50,80,.5)',.9,6);
segs('observation chromosome lines',chromLines.map(x=>[x,232,x,574]),'rgba(50,50,80,.42)',.9,6);
segs('observation group lines',obsLines.map(y=>[192,y,922,y]),'rgba(80,40,60,.55)',1,6);
segs('chromosome ticks',[192].concat(chromLines).map(x=>[x,578,x,590]),'#888',.6,6);
segs('dendrogram',dendroSegs,'#666',.7,6);
segs('dendrogram leaves',dendroLeaves.map(l=>[l[1],l[0],135,l[0]]),'#666',.5,6);
series.push({type:'line',name:'count',xAxisIndex:gE,yAxisIndex:gE,z:6,symbol:'none',animation:false,silent:true,lineStyle:{color:'#5a78b0',width:.8},data:histLine});
txt('(E)',11,457,10.5,{weight:'bold',fill:'#111'});
txt('Preliminary infercnv (pre\u2212noise filtering)',186,457,5.6,{weight:'bold',fill:'#333'});
txt('Distribution of Expression',26.7,482,3.2,{fill:'#555'});
txt('Modified Expression',26.7,535.5,3.6,{fill:'#555'});
txt('Count',5,501.7,3.6,{fill:'#555',rot:Math.PI/2});
txt('References (Cells)',311,507.7,4.6,{fill:'#444',rot:Math.PI/2});
txt('Observations (Cells)',311,604.3,4.6,{fill:'#444',rot:Math.PI/2});
txt('Genomic Region',185.3,672.7,4.6,{fill:'#555'});
[[11.3,683.3,206,8.7,'Endothelial'],[11.3,699.3,181.3,8.7,'Epithelial']].forEach(b=>{
  gfx.push({type:'rect',z:10,silent:true,shape:{x:b[0],y:b[1],width:b[2],height:b[3]},style:{fill:'#fff',stroke:'#999',lineWidth:.8}});
  gfx.push({type:'rect',z:11,silent:true,shape:{x:b[0]+4,y:b[1]+3,width:2.4,height:2.4},style:{fill:'#7FD0BD',stroke:'#555',lineWidth:.3}});
  txt(b[4],b[0]+9.5,b[1]+4.4,3.6,{align:'left',fill:'#555'});});

const heatChart=echarts.init(document.getElementById('h'),null,{renderer:'canvas',width:709,height:960});
heatChart.setOption({backgroundColor:'transparent',animation:false,grid:hGrids,xAxis:hX,yAxis:hY,series:hSeries,
  visualMap:[{show:false,type:'continuous',min:0,max:8,dimension:2,seriesIndex:[0,1,2],inRange:{color:['#1d3a8a','#5f78bf','#a9b5df','#d3d4ea','#ecdfe6','#edc6c4','#dc8f86','#c24a40','#98161c']}}]});
const chart=echarts.init(document.getElementById('c'),null,{renderer:'canvas',width:709,height:960});
chart.setOption({backgroundColor:'transparent',animation:false,textStyle:{fontFamily:FF},grid:grids,xAxis:xAxes,yAxis:yAxes,series,legend:legends,graphic:{elements:gfx}});
</script></body></html>
